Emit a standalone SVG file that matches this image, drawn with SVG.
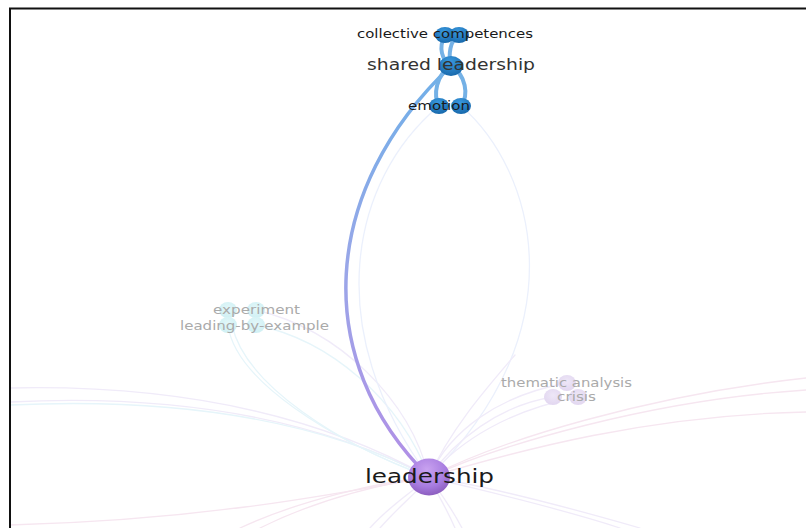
<svg xmlns="http://www.w3.org/2000/svg" width="806" height="528" viewBox="0 0 806 528">
<defs>
<linearGradient id="mainEdge" x1="0" y1="0" x2="0" y2="1">
<stop offset="0" stop-color="#6fb0e8"/>
<stop offset="0.5" stop-color="#9aa6e8"/>
<stop offset="1" stop-color="#b28ee6"/>
</linearGradient>
<radialGradient id="purple" cx="0.45" cy="0.3" r="0.75">
<stop offset="0" stop-color="#c9a2f0"/>
<stop offset="0.6" stop-color="#a87de0"/>
<stop offset="1" stop-color="#8657b8"/>
</radialGradient>
<radialGradient id="blue" cx="0.45" cy="0.3" r="0.75">
<stop offset="0" stop-color="#3a9ae0"/>
<stop offset="1" stop-color="#1565a8"/>
</radialGradient>
<radialGradient id="cyan" cx="0.5" cy="0.4" r="0.7">
<stop offset="0" stop-color="#e2f7f9"/>
<stop offset="1" stop-color="#cdeff3"/>
</radialGradient>
<radialGradient id="lav" cx="0.5" cy="0.4" r="0.7">
<stop offset="0" stop-color="#eee7f7"/>
<stop offset="1" stop-color="#e0d4ef"/>
</radialGradient>
</defs>
<style>
.faint{fill:none;stroke-width:1.3;stroke-linecap:round}
.lv{stroke:#f0ebf9}
.pk{stroke:#f6e6f0}
.cy{stroke:#e6f5fa}
.bl{stroke:#ebf0fc}
.thick{fill:none;stroke:#74b1e6;stroke-width:4;stroke-linecap:round}
.lbl{font-family:"DejaVu Sans","Open Sans",sans-serif;text-anchor:middle;dominant-baseline:central}
.dark{fill:#1a1a1a}
.grey{fill:#aaaaaa}
</style>
<rect width="806" height="528" fill="#ffffff"/>
<g id="connectors">
<path class="faint lv" d="M10,402 C150,395 300,410 429,477"/>
<path class="faint cy" d="M10,405 C160,398 310,415 429,477"/>
<path class="faint lv" d="M10,388 C150,385 300,405 429,477"/>
<path class="faint pk" d="M10,525 C200,520 330,495 429,477"/>
<path class="faint pk" d="M240,528 C300,500 380,482 429,477"/>
<path class="faint pk" d="M260,528 C320,498 390,482 429,477"/>
<path class="faint cy" d="M228,325 C235,380 330,440 429,477"/>
<path class="faint cy" d="M232,325 C245,385 340,445 429,477"/>
<path class="faint cy" d="M256,325 C330,340 400,400 429,477"/>
<path class="faint lv" d="M256,310 C340,330 410,400 429,477"/>
<path class="faint bl" d="M439,106 C350,180 320,330 429,477"/>
<path class="faint bl" d="M461,106 C535,170 580,330 429,477"/>
<path class="faint lv" d="M567,383 C500,395 450,430 429,477"/>
<path class="faint lv" d="M553,397 C500,405 455,440 429,477"/>
<path class="faint lv" d="M578,397 C510,410 460,440 429,477"/>
<path class="faint lv" d="M515,355 C485,390 450,430 429,477"/>
<path class="faint pk" d="M806,378 C650,395 500,440 429,477"/>
<path class="faint pk" d="M806,390 C650,400 500,445 429,477"/>
<path class="faint pk" d="M806,412 C650,415 520,450 429,477"/>
<path class="faint lv" d="M640,528 C560,505 480,485 429,477"/>
<path class="faint lv" d="M620,528 C550,505 470,488 429,477"/>
<path class="faint lv" d="M455,528 C445,505 435,490 429,477"/>
<path class="faint lv" d="M462,528 C450,505 438,490 429,477"/>
<path class="faint lv" d="M370,528 C390,505 415,490 429,477"/>
<path class="faint lv" d="M380,528 C400,505 420,490 429,477"/>
<path d="M451,66 C320,190 310,360 429,477" fill="none" stroke="url(#mainEdge)" stroke-width="3.5" stroke-linecap="round"/>
<path class="thick" d="M445,35 C438,48 442,60 451,66"/>
<path class="thick" d="M459,35 C450,40 448,55 451,66"/>
<path class="thick" d="M451,66 C436,75 433,95 439,106"/>
<path class="thick" d="M451,66 C466,75 469,95 461,106"/>
</g>
<g id="node-experiment">
<ellipse cx="228" cy="310" rx="9" ry="8" fill="url(#cyan)"/>
<ellipse cx="256" cy="310" rx="9" ry="8" fill="url(#cyan)"/>
<text class="lbl grey" x="256.5" y="310" font-size="12" textLength="87" lengthAdjust="spacingAndGlyphs">experiment</text>
</g>
<g id="node-leading-by-example">
<ellipse cx="228" cy="325" rx="9" ry="8" fill="url(#cyan)"/>
<ellipse cx="256" cy="325" rx="9" ry="8" fill="url(#cyan)"/>
<text class="lbl grey" x="254.5" y="326" font-size="12" textLength="149" lengthAdjust="spacingAndGlyphs">leading-by-example</text>
</g>
<g id="node-thematic-analysis">
<ellipse cx="567" cy="383" rx="9" ry="8" fill="url(#lav)"/>
<text class="lbl grey" x="566.5" y="383" font-size="12" textLength="131" lengthAdjust="spacingAndGlyphs">thematic analysis</text>
</g>
<g id="node-crisis">
<ellipse cx="553" cy="397" rx="9" ry="8" fill="url(#lav)"/>
<ellipse cx="578" cy="397" rx="9" ry="8" fill="url(#lav)"/>
<text class="lbl grey" x="576.5" y="397" font-size="12" textLength="39" lengthAdjust="spacingAndGlyphs">crisis</text>
</g>
<g id="node-emotion">
<ellipse cx="439" cy="106" rx="10" ry="8" fill="url(#blue)"/>
<ellipse cx="461" cy="106" rx="10" ry="8" fill="url(#blue)"/>
<text class="lbl dark" x="439" y="106" font-size="12" textLength="62" lengthAdjust="spacingAndGlyphs">emotion</text>
</g>
<g id="node-collective-competences">
<ellipse cx="445" cy="35" rx="10" ry="8" fill="url(#blue)"/>
<ellipse cx="459" cy="35" rx="10" ry="8" fill="url(#blue)"/>
<text class="lbl dark" x="445" y="34" font-size="12" textLength="176" lengthAdjust="spacingAndGlyphs">collective competences</text>
</g>
<g id="node-shared-leadership">
<ellipse cx="451" cy="66" rx="12" ry="10" fill="url(#blue)"/>
<text class="lbl" fill="#333333" x="451" y="65" font-size="15.5" textLength="168" lengthAdjust="spacingAndGlyphs">shared leadership</text>
</g>
<g id="node-leadership">
<ellipse cx="429" cy="477" rx="21" ry="18.5" fill="url(#purple)"/>
<text class="lbl" fill="#1a1a1a" x="429.5" y="476" font-size="20" textLength="129" lengthAdjust="spacingAndGlyphs">leadership</text>
</g>
<g id="frame">
<line x1="9" y1="8.5" x2="806" y2="8.5" stroke="#111" stroke-width="2"/>
<line x1="10" y1="8" x2="10" y2="528" stroke="#111" stroke-width="2"/>
</g>
</svg>
